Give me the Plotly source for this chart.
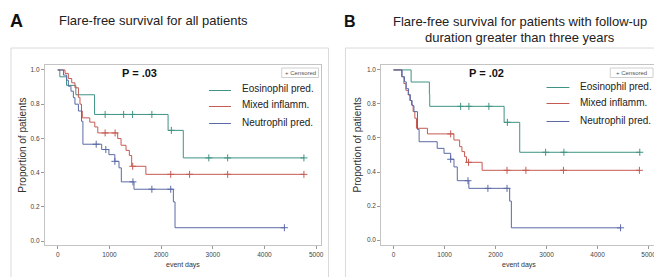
import numpy as np
import plotly.graph_objects as go

# page body has an 8px margin: figure spans screen pixels 8..662
OFF = 8
W, H = 662 - OFF, 277 - OFF

# ---------------- data ----------------
series_names = ["Eosinophil pred.", "Mixed inflamm.", "Neutrophil pred."]
p_values = ["P = .03", "P = .02"]
x_ticks = [0, 1000, 2000, 3000, 4000, 5000]
y_ticks = [0.0, 0.2, 0.4, 0.6, 0.8, 1.0]

# Panel A: all patients
A_eos_t = [0, 40, 170, 350, 712, 2135, 2429, 4763]
A_eos_s = [1.0, 0.96, 0.91, 0.855, 0.74, 0.647, 0.486, 0.486]
A_eos_c = [917, 1275, 1448, 1821, 2198, 2923, 3288, 4763]

A_mix_t = [0, 140, 205, 270, 333, 400, 430, 460, 475, 620, 717, 775, 1160, 1225, 1321, 1385, 1430, 1705, 4763]
A_mix_s = [1.0, 0.98, 0.95, 0.925, 0.896, 0.84, 0.80, 0.76, 0.72, 0.695, 0.667, 0.632, 0.599, 0.56, 0.53, 0.50, 0.437, 0.39, 0.39]
A_mix_c = [917, 1110, 1450, 2186, 2551, 3288, 4763]

A_neu_t = [0, 110, 173, 205, 256, 302, 333, 400, 460, 487, 850, 990, 1105, 1185, 1230, 1475, 2237, 2269, 4385]
A_neu_s = [1.0, 0.97, 0.94, 0.905, 0.876, 0.838, 0.80, 0.76, 0.70, 0.566, 0.535, 0.505, 0.466, 0.428, 0.346, 0.303, 0.229, 0.078, 0.078]
A_neu_c = [744, 930, 1105, 1455, 1821, 2186, 4385]

# Panel B: follow-up > 3 years
B_eos_t = [0, 345, 703, 710, 2168, 2474, 4827]
B_eos_s = [1.0, 0.929, 0.857, 0.786, 0.692, 0.516, 0.516]
B_eos_c = [1315, 1478, 1869, 2232, 2982, 3340, 4827]

B_mix_t = [0, 157, 203, 242, 287, 320, 353, 384, 418, 450, 665, 1184, 1296, 1341, 1393, 1430, 1737, 4820]
B_mix_s = [1.0, 0.96, 0.92, 0.88, 0.853, 0.82, 0.794, 0.755, 0.716, 0.657, 0.624, 0.588, 0.549, 0.52, 0.49, 0.457, 0.41, 0.41]
B_mix_c = [1120, 1471, 2225, 2595, 3331, 4820]

B_neu_t = [0, 170, 215, 250, 295, 330, 365, 400, 470, 502, 856, 990, 1120, 1185, 1250, 1477, 2277, 2310, 4451]
B_neu_s = [1.0, 0.96, 0.93, 0.89, 0.855, 0.82, 0.79, 0.755, 0.65, 0.578, 0.539, 0.51, 0.475, 0.43, 0.349, 0.304, 0.229, 0.072, 0.072]
B_neu_c = [1120, 1460, 1850, 2225, 4451]

colors = ["#3f9384", "#c65a52", "#5b6aa6"]
FONT = "Liberation Sans, Arial, sans-serif"

def px(x):
    return (x - OFF) / W

def py(y):
    return 1 - (y - OFF) / H

def level_at(ts, ss, c):
    idx = np.searchsorted(np.array(ts), np.array(c), side="right") - 1
    return list(np.array(ss)[idx])

fig = go.Figure()

panels = [
    ("x", "y", [(A_eos_t, A_eos_s, A_eos_c), (A_mix_t, A_mix_s, A_mix_c), (A_neu_t, A_neu_s, A_neu_c)]),
    ("x2", "y2", [(B_eos_t, B_eos_s, B_eos_c), (B_mix_t, B_mix_s, B_mix_c), (B_neu_t, B_neu_s, B_neu_c)]),
]
for xa, ya, sets in panels:
    for i, (t, s, c) in enumerate(sets):
        fig.add_trace(go.Scatter(x=t, y=s, mode="lines", line=dict(color=colors[i], width=1, shape="hv"),
                                 xaxis=xa, yaxis=ya, showlegend=False, hoverinfo="skip"))
        fig.add_trace(go.Scatter(x=c, y=level_at(t, s, c), mode="markers",
                                 marker=dict(symbol="cross-thin", size=5, line=dict(color=colors[i], width=1)),
                                 xaxis=xa, yaxis=ya, showlegend=False, hoverinfo="skip"))

# plot areas (reference pixels)
plotA = dict(l=45, r=322, t=65, b=245)
plotB = dict(l=383, r=660, t=65, b=245)

axis_common = dict(showgrid=False, zeroline=False, showline=True, mirror=True, linecolor="#c4c4c4", linewidth=1,
                   ticks="outside", ticklen=3, tickcolor="#9a9a9a", tickfont=dict(family=FONT, size=6.5, color="#444"))

fig.update_layout(
    width=W, height=H, margin=dict(l=0, r=0, t=0, b=0), autosize=False,
    paper_bgcolor="white", plot_bgcolor="white", showlegend=False,
    xaxis=dict(domain=[px(plotA["l"]), px(plotA["r"])], range=[-250, 5085], tickvals=x_ticks, anchor="y", **axis_common),
    yaxis=dict(domain=[py(plotA["b"]), py(plotA["t"])], range=[-0.023, 1.029], tickvals=y_ticks, tickformat=".1f", anchor="x", **axis_common),
    xaxis2=dict(domain=[px(plotB["l"]), min(1.0, px(plotB["r"]))], range=[-240, 5165], tickvals=x_ticks, anchor="y2", **axis_common),
    yaxis2=dict(domain=[py(plotB["b"]), py(plotB["t"])], range=[-0.029, 1.029], tickvals=y_ticks, tickformat=".1f", anchor="x2", **axis_common),
)

shapes = []
annotations = []

def ann(x, y, text, size, color="#222", xanchor="center", **kw):
    annotations.append(dict(x=px(x), y=py(y), text=text, showarrow=False, xref="paper", yref="paper",
                            xanchor=xanchor, yanchor="middle", font=dict(family=FONT, size=size, color=color), **kw))

# outer frames
for x0, x1 in [(11, 330), (347, 668)]:
    shapes.append(dict(type="rect", xref="paper", yref="paper", x0=px(x0), x1=px(x1), y0=py(290), y1=py(48),
                       line=dict(color="#dadada", width=1), fillcolor="rgba(0,0,0,0)", layer="below"))

# letters and titles
ann(16.5, 21, "<b>A</b>", 18, "#111")
ann(351.5, 21, "<b>B</b>", 16, "#111")
ann(57, 20.5, "Flare-free survival for all patients", 13, xanchor="left")
ann(522, 21, "Flare-free survival for patients with follow-up", 13)
ann(522, 37, "duration greater than three years", 13)

# per-panel decorations
panel_dec = [
    dict(pv_x=140, ytitle_x=21.7, leg_line=(210, 232), leg_text_x=241, leg_y=[89, 105, 122], cens=(283, 320)),
    dict(pv_x=488.5, ytitle_x=359, leg_line=(549, 572), leg_text_x=581, leg_y=[86, 102, 120], cens=(613, 656)),
]
for k, (pl, d) in enumerate(zip([plotA, plotB], panel_dec)):
    ann(d["pv_x"], 73, "<b>%s</b>" % p_values[k], 11, "#111")
    ann(d["ytitle_x"], 145, "Proportion of patients", 10, "#333", textangle=-90)
    ann((pl["l"] + pl["r"]) / 2, 265, "event days", 7, "#333")
    for i, name in enumerate(series_names):
        yy = d["leg_y"][i]
        shapes.append(dict(type="line", xref="paper", yref="paper", x0=px(d["leg_line"][0]), x1=px(d["leg_line"][1]),
                           y0=py(yy + 1.5), y1=py(yy + 1.5), line=dict(color=colors[i], width=1)))
        ann(d["leg_text_x"], yy, name, 10, xanchor="left")
    c0, c1 = d["cens"]
    shapes.append(dict(type="rect", xref="paper", yref="paper", x0=px(c0), x1=px(c1), y0=py(77.5), y1=py(68),
                       line=dict(color="#cfcfcf", width=1), fillcolor="white"))
    ann((c0 + c1) / 2, 73, "+ Censored", 6, "#555")

fig.update_layout(shapes=shapes, annotations=annotations)
fig.write_html("out.html")
